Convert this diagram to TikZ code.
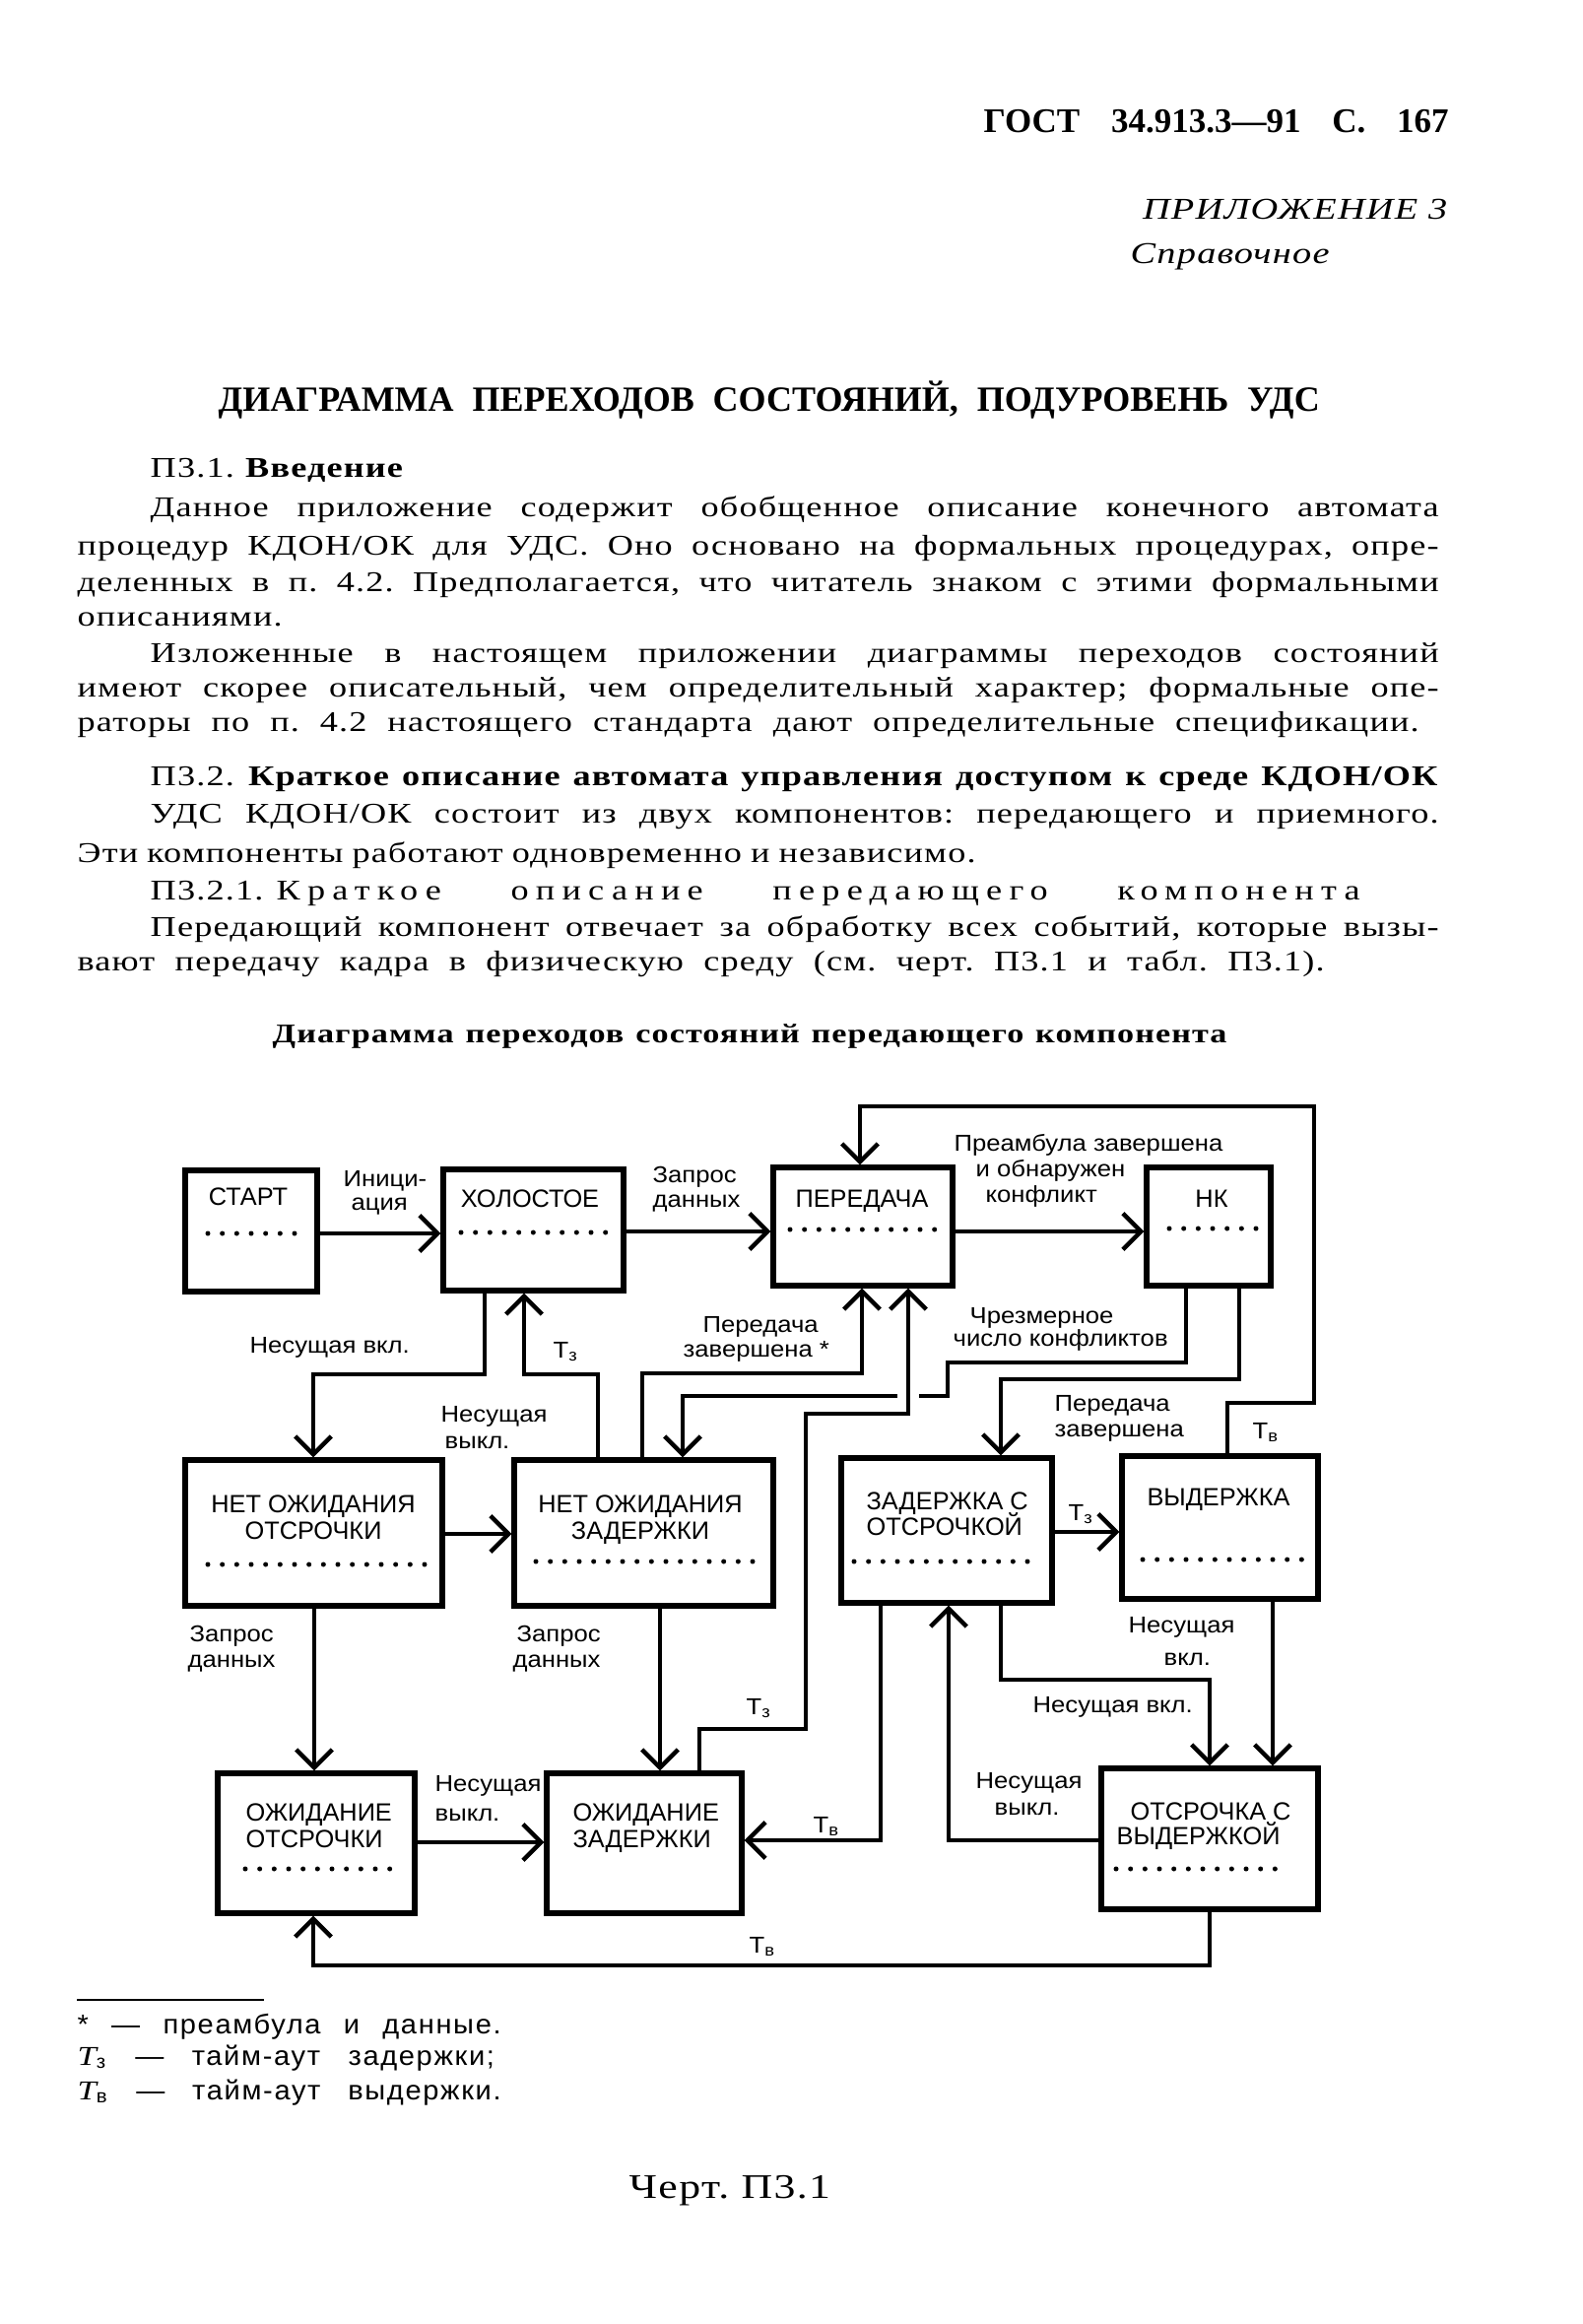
\documentclass[tikz,border=0pt]{standalone}
\usepackage{fontspec}
\setmainfont{Liberation Serif}[FakeStretch=1.25,LetterSpace=4]
\newfontfamily\hdrfont{Liberation Serif}
\newfontfamily\boxfont{Liberation Sans}
\newfontfamily\lblfont{Liberation Sans}[FakeStretch=1.1]
\newfontfamily\fnfont{Liberation Sans}[FakeStretch=1.05,LetterSpace=6]
\usetikzlibrary{arrows.meta,fit}
\tikzset{
  box/.style={draw, line width=1.6pt, inner sep=0pt},
  conn/.style={line width=0.95pt, -{Straight Barb[length=5.5pt,width=11pt,line width=1.3pt]}},
  dotrow/.style={line width=1.5pt, line cap=round, dash pattern=on 0pt off 4.4pt},
  bt/.style={inner sep=0pt, font=\boxfont\fontsize{7.6}{9}\selectfont},
  lb/.style={inner sep=0pt, anchor=base west, font=\lblfont\fontsize{7}{8}\selectfont},
  tx/.style={inner sep=0pt, anchor=base west, font=\fontsize{8.7}{10}\selectfont},
  fn/.style={inner sep=0pt, anchor=base west, font=\fnfont\fontsize{8.3}{9}\selectfont},
}
\begin{document}
\frenchspacing
\begin{tikzpicture}[x=0.3pt,y=-0.3pt]
\fill[white] (0,0) rectangle (1607,2359);
\useasboundingbox (0,0) rectangle (1607,2359);

% ---------- page text ----------
\node[tx, font=\hdrfont\bfseries\fontsize{10.5}{12}\selectfont] (hdr) at (998,135) {\makebox[141.6pt][s]{ГОСТ 34.913.3—91 С. 167}};
\node[tx, anchor=base east, font=\itshape\fontsize{9.2}{11}\selectfont] (app) at (1470,223) {ПРИЛОЖЕНИЕ 3};
\node[tx, font=\itshape\fontsize{9.2}{11}\selectfont] (ref) at (1147,268) {Справочное};
\node[tx, font=\hdrfont\bfseries\fontsize{10.8}{12}\selectfont] (title) at (221,418) {\makebox[335.4pt][s]{ДИАГРАММА ПЕРЕХОДОВ СОСТОЯНИЙ, ПОДУРОВЕНЬ УДС}};
\node[tx] (s31) at (152,485) {П3.1. \textbf{Введение}};
\node[tx] (p1) at (152,525) {\makebox[392.4pt][s]{Данное приложение содержит обобщенное описание конечного автомата}};
\node[tx] (p2) at (78,563) {\makebox[414.6pt][s]{процедур КДОН/ОК для УДС. Оно основано на формальных процедурах, опре-}};
\node[tx] (p3) at (78,600) {\makebox[414.6pt][s]{деленных в п. 4.2. Предполагается, что читатель знаком с этими формальными}};
\node[tx] (p4) at (78,635) {описаниями.};
\node[tx] (p5) at (152,672) {\makebox[392.4pt][s]{Изложенные в настоящем приложении диаграммы переходов состояний}};
\node[tx] (p6) at (78,707) {\makebox[414.6pt][s]{имеют скорее описательный, чем определительный характер; формальные опе-}};
\node[tx] (p7) at (78,742) {\makebox[408.6pt][s]{раторы по п. 4.2 настоящего стандарта дают определительные спецификации.}};
\node[tx] (p8) at (152,797) {\makebox[392.4pt][s]{П3.2. \textbf{Краткое описание автомата управления доступом к среде КДОН/ОК}}};
\node[tx] (p9) at (152,835) {\makebox[392.4pt][s]{УДС КДОН/ОК состоит из двух компонентов: передающего и приемного.}};
\node[tx] (p10) at (78,875) {\makebox[273.6pt][s]{Эти компоненты работают одновременно и независимо.}};
\node[tx] (p11) at (152,913) {\makebox[368.4pt][s]{П3.2.1.\hspace{4pt}{\addfontfeature{LetterSpace=25}Краткое описание передающего компонента}}};
\node[tx] (p12) at (152,950) {\makebox[392.4pt][s]{Передающий компонент отвечает за обработку всех событий, которые вызы-}};
\node[tx] (p13) at (78,985) {\makebox[379.8pt][s]{вают передачу кадра в физическую среду (см. черт. П3.1 и табл. П3.1).}};
\node[tx, font=\bfseries\fontsize{8.2}{10}\selectfont] (cap) at (276,1058) {\makebox[290.7pt][s]{Диаграмма переходов состояний передающего компонента}};

% ---------- boxes ----------
\node[box, fit={(188,1188) (322,1311)}] (start) {};
\node[box, fit={(450,1187) (633,1310)}] (idle) {};
\node[box, fit={(785,1185) (967,1305)}] (xmit) {};
\node[box, fit={(1164,1185) (1290,1305)}] (nk) {};
\node[box, fit={(188,1482) (449,1630)}] (nodefer) {};
\node[box, fit={(522,1482) (785,1630)}] (nodelay) {};
\node[box, fit={(854,1480) (1068,1627)}] (delaydef) {};
\node[box, fit={(1139,1478) (1338,1623)}] (hold) {};
\node[box, fit={(221,1800) (421,1942)}] (waitdef) {};
\node[box, fit={(555,1800) (753,1942)}] (waitdel) {};
\node[box, fit={(1118,1795) (1338,1938)}] (defhold) {};

% box texts
\node[bt,anchor=base] (tStart) at (252,1223) {СТАРТ};
\node[bt,anchor=base] (tIdle) at (538,1225) {ХОЛОСТОЕ};
\node[bt,anchor=base] (tXmit) at (875,1225) {ПЕРЕДАЧА};
\node[bt,anchor=base] (tNk) at (1230,1225) {НК};
\node[bt,anchor=base] (tNoDef1) at (318,1535) {НЕТ ОЖИДАНИЯ};
\node[bt,anchor=base] (tNoDef2) at (318,1562) {ОТСРОЧКИ};
\node[bt,anchor=base] (tNoDel1) at (650,1535) {НЕТ ОЖИДАНИЯ};
\node[bt,anchor=base] (tNoDel2) at (650,1562) {ЗАДЕРЖКИ};
\node[bt,anchor=base west] (tDD1) at (879,1532) {ЗАДЕРЖКА С};
\node[bt,anchor=base west] (tDD2) at (879,1558) {ОТСРОЧКОЙ};
\node[bt,anchor=base] (tHold) at (1237,1528) {ВЫДЕРЖКА};
\node[bt,anchor=base west] (tWD1) at (249,1848) {ОЖИДАНИЕ};
\node[bt,anchor=base west] (tWD2) at (249,1875) {ОТСРОЧКИ};
\node[bt,anchor=base west] (tWL1) at (581,1848) {ОЖИДАНИЕ};
\node[bt,anchor=base west] (tWL2) at (581,1875) {ЗАДЕРЖКИ};
\node[bt,anchor=base west] (tDH1) at (1147,1847) {ОТСРОЧКА С};
\node[bt,anchor=base west] (tDH2) at (1133,1872) {ВЫДЕРЖКОЙ};

% dotted rows
\draw[dotrow] (211,1252) -- (300,1252);
\draw[dotrow] (468,1251) -- (615,1251);
\draw[dotrow] (802,1248) -- (950,1248);
\draw[dotrow] (1187,1247) -- (1279,1247);
\draw[dotrow] (211,1588) -- (431,1588);
\draw[dotrow] (544,1585) -- (765,1585);
\draw[dotrow] (867,1585) -- (1049,1585);
\draw[dotrow] (1160,1583) -- (1323,1583);
\draw[dotrow] (249,1897) -- (409,1897);
\draw[dotrow] (1133,1897) -- (1298,1897);

% ---------- connectors ----------
\draw[conn] (start.east |- 0,1252) -- (idle.west |- 0,1252);
\draw[conn] (idle.east |- 0,1250) -- (xmit.west |- 0,1250);
\draw[conn] (xmit.east |- 0,1250) -- (nk.west |- 0,1250);
\draw[conn] (492,0 |- idle.south) -- (492,1395) -- (318,1395) -- (318,0 |- nodefer.north);
\draw[conn] (607,0 |- nodelay.north) -- (607,1395) -- (532,1395) -- (532,0 |- idle.south);
\draw[conn] (nodefer.east |- 0,1557) -- (nodelay.west |- 0,1557);
\draw[conn] (652,0 |- nodelay.north) -- (652,1394) -- (875,1394) -- (875,0 |- xmit.south);
\draw[conn] (1204,0 |- nk.south) -- (1204,1383) -- (962,1383) -- (962,1417) -- (693,1417) -- (693,0 |- nodelay.north);
\fill[white] (911,1410) rectangle (933,1424);
\draw[conn] (710,0 |- waitdel.north) -- (710,1755) -- (818,1755) -- (818,1435) -- (922,1435) -- (922,0 |- xmit.south);
\draw[conn] (1258,0 |- nk.south) -- (1258,1400) -- (1016,1400) -- (1016,0 |- delaydef.north);
\draw[conn] (1246,0 |- hold.north) -- (1246,1424) -- (1334,1424) -- (1334,1123) -- (873,1123) -- (873,0 |- xmit.north);
\draw[conn] (delaydef.east |- 0,1555) -- (hold.west |- 0,1555);
\draw[conn] (319,0 |- nodefer.south) -- (319,0 |- waitdef.north);
\draw[conn] (670,0 |- nodelay.south) -- (670,0 |- waitdel.north);
\draw[conn] (waitdef.east |- 0,1870) -- (waitdel.west |- 0,1870);
\draw[conn] (894,0 |- delaydef.south) -- (894,1868) -- (waitdel.east |- 0,1868);
\draw[conn] (defhold.west |- 0,1868) -- (963,1868) -- (963,0 |- delaydef.south);
\draw[conn] (1016,0 |- delaydef.south) -- (1016,1705) -- (1228,1705) -- (1228,0 |- defhold.north);
\draw[conn] (1292,0 |- hold.south) -- (1292,0 |- defhold.north);
\draw[conn] (1228,0 |- defhold.south) -- (1228,1995) -- (318,1995) -- (318,0 |- waitdef.south);

% ---------- connector labels ----------
\node[lb] (lInit1) at (348,1204) {Иници-};
\node[lb] (lInit2) at (356,1228) {ация};
\node[lb] (lReq1) at (662,1200) {Запрос};
\node[lb] (lReq2) at (662,1225) {данных};
\node[lb] (lPre1) at (968,1168) {Преамбула завершена};
\node[lb] (lPre2) at (990,1194) {и обнаружен};
\node[lb] (lPre3) at (1000,1220) {конфликт};
\node[lb] (lCarOn1) at (253,1373) {Несущая вкл.};
\node[lb] (lTz1) at (561,1378) {Т\textsubscript{з}};
\node[lb] (lCarOff1a) at (447,1443) {Несущая};
\node[lb] (lCarOff1b) at (451,1470) {выкл.};
\node[lb] (lDone1a) at (713,1352) {Передача};
\node[lb] (lDone1b) at (693,1377) {завершена *};
\node[lb] (lExc1) at (984,1343) {Чрезмерное};
\node[lb] (lExc2) at (967,1366) {число конфликтов};
\node[lb] (lDone2a) at (1070,1432) {Передача};
\node[lb] (lDone2b) at (1070,1458) {завершена};
\node[lb] (lTv1) at (1271,1460) {Т\textsubscript{в}};
\node[lb] (lReq2a) at (192,1666) {Запрос};
\node[lb] (lReq2b) at (190,1692) {данных};
\node[lb] (lReq3a) at (524,1666) {Запрос};
\node[lb] (lReq3b) at (520,1692) {данных};
\node[lb] (lTz2) at (757,1740) {Т\textsubscript{з}};
\node[lb] (lTz3) at (1084,1543) {Т\textsubscript{з}};
\node[lb] (lCarOn2a) at (1145,1657) {Несущая};
\node[lb] (lCarOn2b) at (1181,1690) {вкл.};
\node[lb] (lCarOn3) at (1048,1738) {Несущая вкл.};
\node[lb] (lCarOff2a) at (990,1815) {Несущая};
\node[lb] (lCarOff2b) at (1009,1842) {выкл.};
\node[lb] (lTv2) at (825,1860) {Т\textsubscript{в}};
\node[lb] (lCarOff3a) at (441,1818) {Несущая};
\node[lb] (lCarOff3b) at (441,1848) {выкл.};
\node[lb] (lTv3) at (760,1982) {Т\textsubscript{в}};

% ---------- footnotes ----------
\draw[line width=0.7pt] (78,2030) -- (268,2030);
\node[fn] (fn1) at (78,2064) {\makebox[129pt][s]{* — преамбула и данные.}};
\node[fn] (fn2) at (78,2096) {\makebox[127pt][s]{{\rmfamily\itshape Т}\textsubscript{з} — тайм-аут задержки;}};
\node[fn] (fn3) at (78,2131) {\makebox[129pt][s]{{\rmfamily\itshape Т}\textsubscript{в} — тайм-аут выдержки.}};
\node[tx, font=\fontsize{10.5}{12}\selectfont] (fig) at (638,2231) {Черт. П3.1};
\end{tikzpicture}
\end{document}
